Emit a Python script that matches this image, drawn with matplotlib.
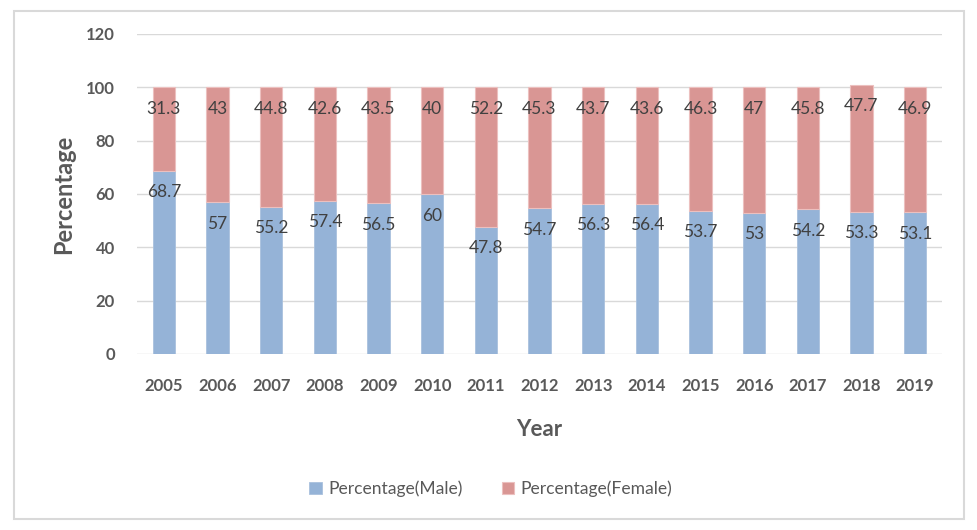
import numpy as np
import matplotlib.pyplot as plt
from matplotlib.patches import Rectangle

years = ['2005', '2006', '2007', '2008', '2009', '2010', '2011', '2012',
         '2013', '2014', '2015', '2016', '2017', '2018', '2019']
male = [68.7, 57, 55.2, 57.4, 56.5, 60, 47.8, 54.7, 56.3, 56.4, 53.7, 53, 54.2, 53.3, 53.1]
female = [31.3, 43, 44.8, 42.6, 43.5, 40, 52.2, 45.3, 43.7, 43.6, 46.3, 47, 45.8, 47.7, 46.9]

plt.rcParams['font.family'] = ['Lato', 'DejaVu Sans']
txt = '#595959'
c_male = '#95B3D7'
c_female = '#D99694'

fig = plt.figure(figsize=(9.77, 5.30), dpi=100)
ax = fig.add_axes([137/977, 1-354/530, 805/977, 320/530])

# outer chart border
fig.patches.append(Rectangle((14/977, 1-519/530), 950/977, 508/530, transform=fig.transFigure,
                             fill=False, edgecolor='#D9D9D9', linewidth=1.5))

x = np.arange(len(years))
w = 0.41
b1 = ax.bar(x, male, w, color=c_male, edgecolor='#A9C1DE', linewidth=0.6, label='Percentage(Male)', zorder=3)
b2 = ax.bar(x, female, w, bottom=male, color=c_female, edgecolor='#ECC0BF', linewidth=0.8,
            label='Percentage(Female)', zorder=3)

for i in range(len(years)):
    ax.annotate(f'{male[i]:g}', (x[i], male[i]), xytext=(0, -15.5), textcoords='offset points',
                ha='center', va='center', fontsize=12.5, color='#404040', zorder=4)
    ax.annotate(f'{female[i]:g}', (x[i], male[i] + female[i]), xytext=(0, -15.5), textcoords='offset points',
                ha='center', va='center', fontsize=12.5, color='#404040', zorder=4)

ax.set_ylim(0, 120)
ax.set_yticks(range(0, 121, 20))
ax.set_xlim(-0.5, len(years) - 0.5)
ax.set_xticks(x)
ax.set_xticklabels(years)
ax.yaxis.grid(True, color='#D9D9D9', linewidth=1, zorder=0)
for s in ax.spines.values():
    s.set_visible(False)
ax.tick_params(length=0, labelsize=12, labelcolor=txt)
ax.tick_params(axis='x', pad=17)
ax.tick_params(axis='y', pad=16)
for t in ax.get_xticklabels() + ax.get_yticklabels():
    t.set_fontweight('bold')

ax.set_xlabel('Year', fontsize=16, fontweight='bold', color=txt, labelpad=18)
ax.set_ylabel('Percentage', fontsize=17, fontweight='bold', color=txt, labelpad=8)

fig.legend(handles=[b1, b2], loc='center', bbox_to_anchor=(491/977, 1-489/530), ncol=2, frameon=False,
           fontsize=12.6, handlelength=0.7, handleheight=0.7, handletextpad=0.4, columnspacing=2.2,
           labelcolor=txt)

fig.savefig('out.png', dpi=100)
